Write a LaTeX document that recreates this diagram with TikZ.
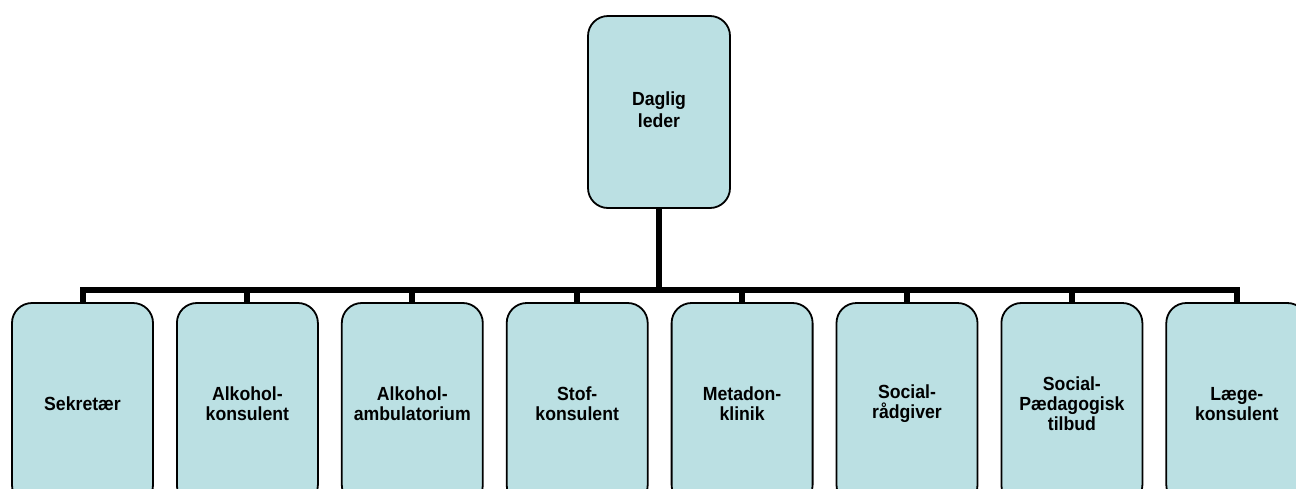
\documentclass[tikz,border=0pt]{standalone}
\usepackage{fontspec}
\setmainfont{Liberation Sans}[FakeStretch=0.93]
\usetikzlibrary{backgrounds}
\definecolor{boxfill}{RGB}{187,224,227}
\tikzset{
  orgbox/.style={draw=black, line width=1.8pt, fill=boxfill, rounded corners=20pt,
    align=center, inner sep=0pt, font=\fontsize{19pt}{20pt}\selectfont\bfseries},
  topbox/.style={orgbox, minimum width=142pt, minimum height=192pt},
  childbox/.style={orgbox, minimum width=141pt, minimum height=202pt},
  conn/.style={draw=black, line width=6pt}
}
\begin{document}
\begin{tikzpicture}[x=1pt,y=-1pt]
\useasboundingbox (0,0) rectangle (1296,488);
\clip (0,0) rectangle (1296,488);
\node[topbox] (top) at (659,112) {\raisebox{12pt}{\begin{tabular}{@{}c@{}}Daglig\\[2pt]leder\end{tabular}}};
\coordinate (bar) at (659,290);
\node[childbox] (c1) at (82.5,404) {Sekretær};
\node[childbox] (c2) at (247.4,404) {Alkohol-\\konsulent};
\node[childbox] (c3) at (412.3,404) {Alkohol-\\ambulatorium};
\node[childbox] (c4) at (577.2,404) {Stof-\\konsulent};
\node[childbox] (c5) at (742.1,404) {Metadon-\\klinik};
\node[childbox] (c6) at (907,404) {Social-\\rådgiver};
\node[childbox] (c7) at (1071.9,404) {Social-\\Pædagogisk\\tilbud};
\node[childbox] (c8) at (1236.8,404) {Læge-\\konsulent};
\begin{scope}[on background layer]
\draw[conn] (top.south) -- (bar);
\foreach \c in {c1,c2,c3,c4,c5,c6,c7,c8}{
  \draw[conn] (bar) -| (\c.north);
}
\end{scope}
\end{tikzpicture}
\end{document}
